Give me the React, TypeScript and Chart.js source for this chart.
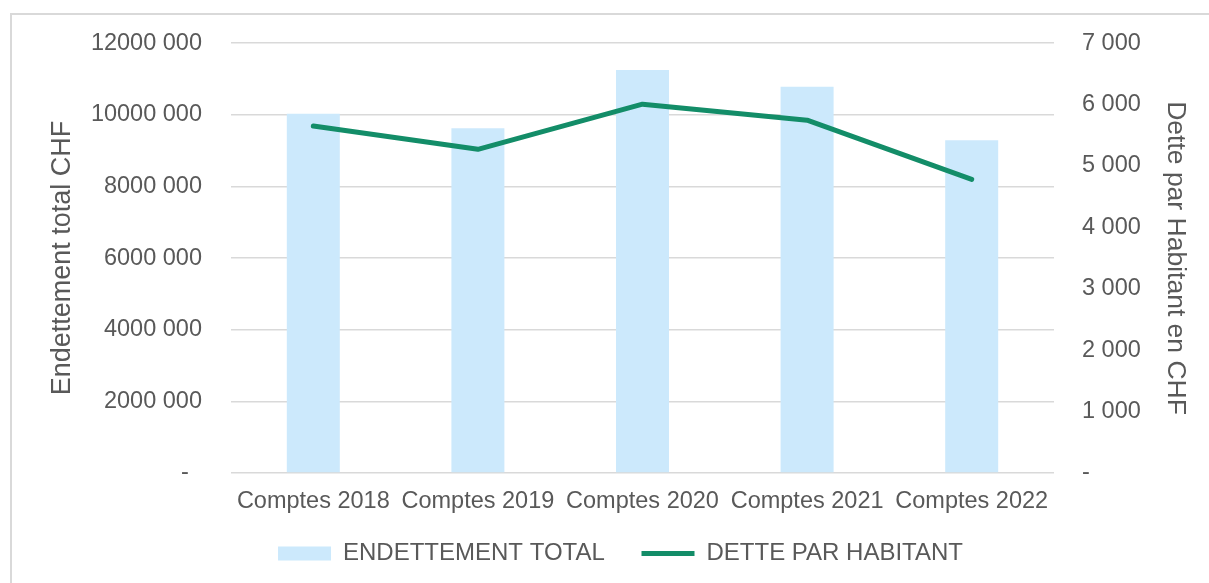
import React, { useEffect, useRef } from "react";
import { Chart, registerables } from "chart.js";

Chart.register(...registerables);

const categories = ["Comptes 2018", "Comptes 2019", "Comptes 2020", "Comptes 2021", "Comptes 2022"];
const endettementTotal = [10030000, 9620000, 11250000, 10780000, 9290000];
const dettePerHabitant = [5650, 5270, 6005, 5745, 4780];
const leftTickLabels = ["-  ", "2000 000", "4000 000", "6000 000", "8000 000", "10000 000", "12000 000"];
const rightTickLabels = ["-", "1 000", "2 000", "3 000", "4 000", "5 000", "6 000", "7 000"];

const FONT = "'Liberation Sans', Arial, sans-serif";
const TEXT = "#595959";

export default function App() {
  const ref = useRef<HTMLCanvasElement | null>(null);

  useEffect(() => {
    if (!ref.current) return;
    const chart = new Chart(ref.current, {
      type: "bar",
      data: {
        labels: categories,
        datasets: [
          {
            type: "bar",
            label: "ENDETTEMENT TOTAL",
            data: endettementTotal,
            backgroundColor: "#CCE9FC",
            borderWidth: 0,
            barPercentage: 0.322,
            categoryPercentage: 1,
            yAxisID: "y",
            order: 1,
            pointStyle: "rect",
          } as any,
          {
            type: "line",
            label: "DETTE PAR HABITANT",
            data: dettePerHabitant,
            borderColor: "#138D68",
            backgroundColor: "#138D68",
            borderWidth: 5,
            borderCapStyle: "round",
            borderJoinStyle: "round",
            pointRadius: 0,
            pointHoverRadius: 0,
            tension: 0,
            yAxisID: "y1",
            order: 0,
            pointStyle: "line",
          } as any,
        ],
      },
      options: {
        animation: false,
        responsive: false,
        maintainAspectRatio: false,
        layout: { padding: { top: 43, left: 32, right: 0, bottom: 7.5 } },
        plugins: {
          tooltip: { enabled: false },
          legend: {
            position: "bottom",
            labels: {
              usePointStyle: true,
              pointStyleWidth: 53,
              boxHeight: 14,
              padding: 10,
              color: TEXT,
              font: { family: FONT, size: 24 },
              generateLabels: (c: any) => {
                const items = Chart.defaults.plugins.legend.labels.generateLabels(c);
                items.forEach((it: any) => {
                  if (it.datasetIndex === 0) it.text = it.text + "    ";
                });
                return items;
              },
              sort: (a: any, b: any) => a.datasetIndex - b.datasetIndex,
            },
          },
        },
        scales: {
          x: {
            grid: { display: false, drawTicks: false },
            border: { display: false },
            ticks: {
              color: TEXT,
              font: { family: FONT, size: 23.5 },
              padding: 14,
              maxRotation: 0,
              autoSkip: false,
            },
            afterFit: (s: any) => {
              s.height = 58.5;
            },
          },
          y: {
            position: "left",
            min: 0,
            max: 12000000,
            border: { display: false },
            grid: { color: "#D9D9D9", lineWidth: 1.5, drawTicks: false },
            ticks: {
              stepSize: 2000000,
              color: TEXT,
              font: { family: FONT, size: 23.5 },
              padding: 29,
              callback: (v: any) => leftTickLabels[Math.round(Number(v) / 2000000)] ?? "",
            },
            title: {
              display: true,
              text: "Endettement total CHF",
              color: TEXT,
              font: { family: FONT, size: 27 },
              padding: { top: 14, bottom: 0 },
            },
            afterFit: (s: any) => {
              s.width = 199;
            },
          },
          y1: {
            position: "right",
            min: 0,
            max: 7000,
            border: { display: false },
            grid: { drawOnChartArea: false, drawTicks: false },
            ticks: {
              stepSize: 1000,
              color: TEXT,
              font: { family: FONT, size: 23.5 },
              padding: 28,
              callback: (v: any) => rightTickLabels[Math.round(Number(v) / 1000)] ?? "",
            },
            title: {
              display: true,
              text: "Dette par Habitant en CHF",
              color: TEXT,
              font: { family: FONT, size: 26.5 },
              padding: { top: 18, bottom: 0 },
            },
            afterFit: (s: any) => {
              s.width = 155;
            },
          },
        },
      } as any,
    });
    return () => chart.destroy();
  }, []);

  return (
    <div
      style={{
        position: "fixed",
        left: 0,
        top: 0,
        width: 1209,
        height: 583,
        overflow: "hidden",
        background: "#ffffff",
      }}
    >
      <div
        style={{
          position: "absolute",
          left: 10,
          top: 13,
          width: 1400,
          height: 800,
          border: "2px solid #D9D9D9",
          boxSizing: "border-box",
        }}
      />
      <canvas
        ref={ref}
        width={1209}
        height={583}
        style={{ position: "absolute", left: 0, top: 0, width: 1209, height: 583 }}
      />
    </div>
  );
}
